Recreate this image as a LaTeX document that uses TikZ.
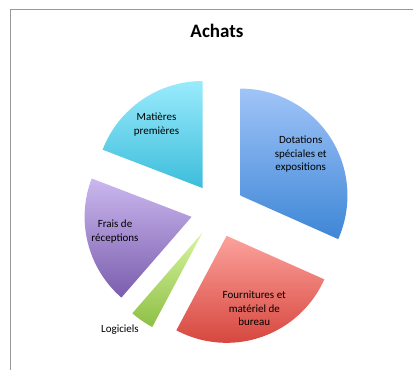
\documentclass[tikz,border=0pt]{standalone}
\usepackage{fontspec}
\setmainfont{Carlito}
\usetikzlibrary{calc}
\definecolor{blueT}{HTML}{A0C4F8}
\definecolor{blueB}{HTML}{3E86D6}
\definecolor{redT}{HTML}{FCA29C}
\definecolor{redB}{HTML}{D6463E}
\definecolor{greenT}{HTML}{D8F5A0}
\definecolor{greenB}{HTML}{8DBF45}
\definecolor{purpT}{HTML}{CBB8EE}
\definecolor{purpB}{HTML}{7A5DAE}
\definecolor{cyanT}{HTML}{9AEBFC}
\definecolor{cyanB}{HTML}{3CBDDB}
\tikzset{label/.style={align=center, font=\fontsize{11}{13.3}\selectfont}}

\begin{document}
\begin{tikzpicture}[x=1pt, y=1pt]
\useasboundingbox (0,0) rectangle (413,370);
\draw[gray!80, line width=1pt] (10.7,0) -- (10.7,360.7) -- (413,360.7);
\node[font=\bfseries\fontsize{19}{22}\selectfont] (title) at (217,339) {Achats};
\coordinate (C) at (217.8,159.7);
\foreach \a/\b/\tc/\bc in {90/-24/blueT/blueB, -24/-118/redT/redB, -118/-131/greenT/greenB, -131/-201/purpT/purpB, 159/90/cyanT/cyanB}
\shade[top color=\tc, bottom color=\bc] ($(C)+({(\a+\b)/2}:27)$) -- ++(\a:107) arc[start angle=\a, end angle=\b, radius=107pt] -- cycle;
\node[label] (mat) at (156.5,245.3) {Matières\\premières};
\node[label] (dot) at (300.7,215.7) {Dotations\\spéciales et\\expositions};
\node[label] (frais) at (115,138.3) {Frais de\\réceptions};
\node[label] (four) at (254.3,61.7) {Fournitures et\\matériel de\\bureau};
\node[label] (logi) at (120,40) {Logiciels};
\end{tikzpicture}
\end{document}
